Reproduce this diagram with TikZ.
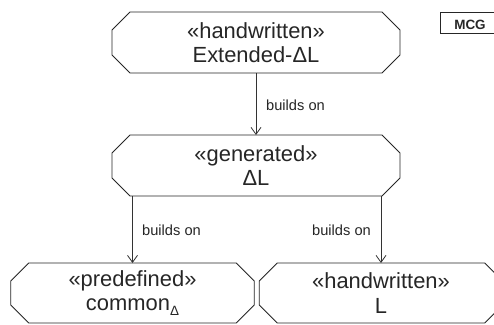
\documentclass[tikz,border=0pt]{standalone}
\usepackage{fontspec}
\setmainfont{Liberation Sans}
\usetikzlibrary{arrows.meta}
\newcommand{\chamfbox}[1]{\draw[stateline] ([xshift=18bp]#1.north west) -- ([xshift=-18bp]#1.north east) -- ([yshift=-18bp]#1.north east) -- ([yshift=18bp]#1.south east) -- ([xshift=-18bp]#1.south east) -- ([xshift=18bp]#1.south west) -- ([yshift=18bp]#1.south west) -- ([yshift=-18bp]#1.north west) -- cycle;}
\tikzset{
  x=1bp,y=-1bp,
  stateline/.style={draw=black!85,line width=0.9bp},
  state/.style={rectangle,inner sep=0pt,outer sep=0pt,align=center,font=\fontsize{22}{24.5}\selectfont,text=black!85},
  wide/.style={state,minimum width=288bp,minimum height=61bp},
  narrow/.style={state,minimum width=243.5bp,minimum height=60bp},
  dep/.style={draw=black!80,line width=0.9bp,-{Straight Barb[length=7bp,width=10bp,line width=0.8bp]}},
  lab/.style={font=\fontsize{14.7}{16}\selectfont,text=black!85,inner sep=0pt},
}
\begin{document}
\begin{tikzpicture}
\useasboundingbox (0,0) rectangle (494,324);
\fill[white] (0,0) rectangle (494,324);
\node[wide] (ext) at (256,42.5) {«handwritten»\\Extended-ΔL};
\node[wide] (gen) at (256,165.5) {«generated»\\ΔL};
\node[narrow] (pre) at (132.5,293) {\raisebox{-1bp}{«predefined»}\\\raisebox{-1bp}{common\raisebox{-5bp}{\fontsize{13.5}{13.5}\selectfont Δ}}};
\node[narrow] (hand) at (381,293) {\raisebox{-1bp}{«handwritten»}\\\raisebox{-1bp}{L}};
\chamfbox{ext}
\chamfbox{gen}
\chamfbox{pre}
\chamfbox{hand}
\node[draw=black!85,line width=0.9bp,minimum width=60bp,minimum height=21bp,inner sep=0pt] (mcg) at (470,22.5) {};
\node[font=\fontsize{13.5}{15}\selectfont\bfseries,text=black!85,inner sep=0pt] (mcgt) at (470,25) {MCG};
\draw[dep] (ext.south) -- (gen.north);
\draw[dep] (pre.north |- gen.south) -- (pre.north);
\draw[dep] (hand.north |- gen.south) -- (hand.north);
\node[lab] (l1) at (295.5,105) {builds on};
\node[lab] (l2) at (171.5,230) {builds on};
\node[lab] (l3) at (341.5,230) {builds on};
\end{tikzpicture}
\end{document}
